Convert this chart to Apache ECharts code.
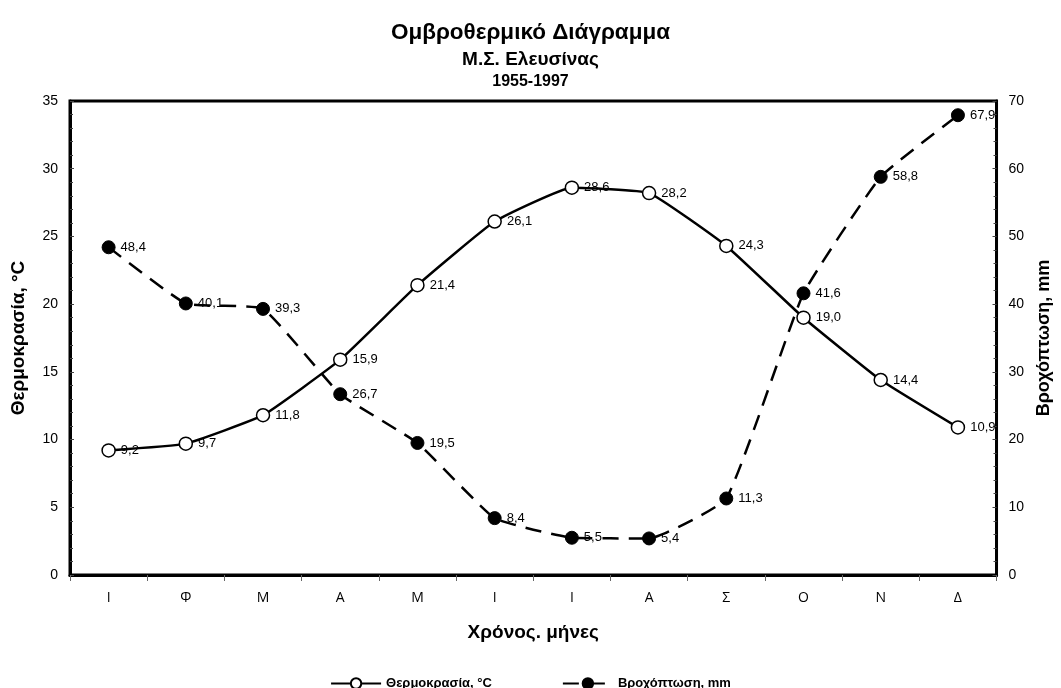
<!DOCTYPE html>
<html><head><meta charset="utf-8">
<script src="https://cdn.jsdelivr.net/npm/echarts@6/dist/echarts.min.js"></script>
<style>html,body{margin:0;padding:0;background:#fff}#c{width:1061px;height:688px}</style>
</head><body><div id="c"></div>
<script>
const months = ['Ι','Φ','Μ','Α','Μ','Ι','Ι','Α','Σ','Ο','Ν','Δ'];
const temperature = [9.2, 9.7, 11.8, 15.9, 21.4, 26.1, 28.6, 28.2, 24.3, 19.0, 14.4, 10.9];
const precipitation = [48.4, 40.1, 39.3, 26.7, 19.5, 8.4, 5.5, 5.4, 11.3, 41.6, 58.8, 67.9];
const tempName = 'Θερμοκρασία, °C';
const rainName = 'Βροχόπτωση, mm';

const F = '"Liberation Sans", Arial, sans-serif';
const lbl = {
  show: true, position: 'right', distance: 5, color: '#000', fontSize: 13, fontFamily: F,
  formatter: p => p.value.toFixed(1).replace('.', ',')
};
const chart = echarts.init(document.getElementById('c'));
chart.setOption({
  animation: false,
  title: [
    {text: 'Ομβροθερμικό Διάγραμμα', left: 'center', top: 16, textStyle: {fontFamily: F, fontSize: 22.5, fontWeight: 'bold', color: '#000'}},
    {text: 'Μ.Σ. Ελευσίνας', left: 'center', top: 45, textStyle: {fontFamily: F, fontSize: 19, fontWeight: 'bold', color: '#000'}},
    {text: '1955-1997', left: 'center', top: 69, textStyle: {fontFamily: F, fontSize: 16, fontWeight: 'bold', color: '#000'}}
  ],
  grid: {left: 70, right: 58, top: 101, bottom: 113, show: true, borderColor: '#000', borderWidth: 3, backgroundColor: '#fff'},
  legend: {
    bottom: -7, left: 'center', itemWidth: 50, itemHeight: 13, itemGap: 70,
    textStyle: {fontFamily: F, fontSize: 13, fontWeight: 'bold', color: '#000'},
    data: [tempName, rainName]
  },
  xAxis: {
    type: 'category', data: months,
    name: 'Χρόνος. μήνες', nameLocation: 'middle', nameGap: 48,
    nameTextStyle: {fontFamily: F, fontSize: 19, fontWeight: 'bold', color: '#000'},
    axisLine: {lineStyle: {color: '#000', width: 3}},
    axisTick: {show: true, inside: false, length: 6, lineStyle: {color: '#666', width: 1}},
    axisLabel: {fontFamily: '"Open Sans", sans-serif', fontSize: 14, color: '#000', margin: 16}
  },
  yAxis: [
    {
      type: 'value', min: 0, max: 35, interval: 5, position: 'left',
      name: tempName, nameLocation: 'middle', nameGap: 42, nameRotate: 90,
      nameTextStyle: {fontFamily: F, fontSize: 19, fontWeight: 'bold', color: '#000'},
      axisLine: {show: true, lineStyle: {color: '#000', width: 3}},
      axisTick: {show: true, inside: true, length: 4, lineStyle: {color: '#444'}},
      minorTick: {show: true, splitNumber: 5, length: 3, lineStyle: {color: '#444'}},
      splitLine: {show: false},
      axisLabel: {fontFamily: F, fontSize: 14, color: '#000', margin: 12}
    },
    {
      type: 'value', min: 0, max: 70, interval: 10, position: 'right',
      name: rainName, nameLocation: 'middle', nameGap: 36, nameRotate: 90,
      nameTextStyle: {fontFamily: F, fontSize: 18, fontWeight: 'bold', color: '#000'},
      axisLine: {show: true, lineStyle: {color: '#000', width: 3}},
      axisTick: {show: true, inside: true, length: 4, lineStyle: {color: '#444'}},
      minorTick: {show: true, splitNumber: 5, length: 3, lineStyle: {color: '#444'}},
      splitLine: {show: false},
      axisLabel: {fontFamily: F, fontSize: 14, color: '#000', margin: 12}
    }
  ],
  series: [
    {
      name: tempName, type: 'line', yAxisIndex: 0, data: temperature, smooth: 0.12,
      symbol: 'circle', symbolSize: 13,
      lineStyle: {color: '#000', width: 2.5},
      itemStyle: {color: '#fff', borderColor: '#000', borderWidth: 1.5},
      label: lbl, z: 3
    },
    {
      name: rainName, type: 'line', yAxisIndex: 1, data: precipitation, smooth: 0.12,
      symbol: 'circle', symbolSize: 13,
      lineStyle: {color: '#000', width: 2.5, type: [16, 10]},
      itemStyle: {color: '#000', borderColor: '#000', borderWidth: 1},
      label: lbl, z: 2
    }
  ]
});
</script></body></html>
